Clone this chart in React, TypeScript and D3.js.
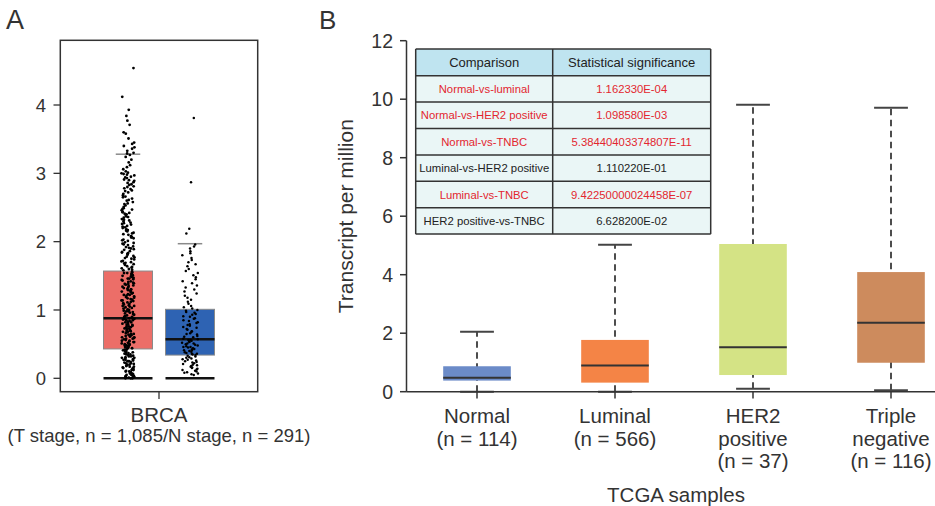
import React from "react";
import * as d3 from "d3";

const W = 935;
const H = 506;
const FONT = "'Liberation Sans', Arial, Helvetica, sans-serif";
const INK = "#333333";

// ---------------- Panel A data ----------------
const groupA = ["BRCA"];
const subgroupsA = ["T stage", "N stage"];
const colorsA = ["#ec6e68", "#2e63b3"];
const q1A = [0.43, 0.34];
const medianA = [0.88, 0.57];
const q3A = [1.57, 1.01];
const lowerA = [0, 0];
const upperA = [3.28, 1.97];
const ticksA = [0, 1, 2, 3, 4];

// individual expression values (hundredths of TPM, read approximately from the jitter)
const redPointsA = [
  454, 412, 393, 384, 377, 371, 360, 358, 351, 345, 343, 340, 338, 336, 333, 330, 329, 327,
  324, 320, 316, 312, 309, 306, 303, 301, 300,
  299, 298, 297, 295, 294, 293, 291, 290, 289, 287, 286, 284, 283, 281, 280, 278, 277, 275, 274,
  272, 270, 268, 266, 265, 263, 261, 260, 258, 256, 255, 253, 251,
  249, 248, 247, 246, 244, 243, 242, 241, 240, 238, 237, 236, 235, 233, 232, 231, 230, 228, 227,
  226, 225, 223, 222, 221, 220, 218, 217, 216, 215, 213, 212, 211, 210, 208, 207, 206, 205, 203,
  202, 201, 199, 198, 197, 196, 195, 193, 192, 191, 190, 189, 188, 186, 185, 184, 183, 182, 181,
  179, 178, 177, 176, 175, 174, 172, 171, 170, 169, 168, 167, 166, 164, 163, 162, 161, 160, 159,
  158, 156, 155, 154, 154, 153, 152, 151, 150, 149, 148, 147, 146, 146, 145, 144, 143, 142, 141,
  140, 139, 138, 138, 137, 136, 135, 134, 133, 132, 131, 130, 130, 129, 128, 127, 126, 125, 124,
  123, 122, 122, 121, 120, 119, 118, 117, 116, 115, 114, 114, 113, 112, 111, 110, 109, 108, 107,
  106, 106, 105, 104, 103, 102, 101, 100, 99, 98, 98, 97, 96, 95, 94, 93, 92, 91, 90, 90, 89, 88,
  87, 87, 86, 85, 85, 84, 83, 82, 82, 81, 80, 80, 79, 78, 78, 77, 76, 75, 75, 74, 73, 73, 72, 71,
  70, 70, 69, 68, 68, 67, 66, 65, 65, 64, 63, 63, 62, 61, 60, 60, 59, 58, 58, 57, 56, 55, 55, 54,
  53, 53, 52, 51, 50, 50, 49, 48, 48, 47, 46, 45, 45, 44, 44, 43,
  42, 42, 41, 40, 40, 39, 38, 37, 37, 36, 35, 35, 34, 33, 32, 32, 31, 30, 30, 29, 28, 27, 27, 26,
  25, 25, 24, 23, 22, 22, 21, 20, 20, 19, 18, 17, 17, 16, 15, 15, 14, 13, 12, 12, 11, 10, 10, 9,
  8, 7, 7, 6, 5, 5, 4, 3, 3, 2, 2, 1, 1, 1, 0, 0, 0,
];
const bluePointsA = [
  381, 287, 219, 212,
  196, 193, 190, 186, 183, 180, 176, 173, 170, 167, 164, 160, 157, 154, 151, 148, 145, 142, 139,
  136, 133, 130, 127, 124, 121, 118, 115, 112, 109, 106, 104, 102,
  100, 99, 97, 96, 94, 93, 91, 90, 88, 87, 85, 84, 82, 81, 79, 78, 77, 75, 74, 72, 71, 69, 68, 66,
  65, 64, 62, 61, 60, 58, 57,
  56, 56, 55, 54, 53, 52, 51, 51, 50, 49, 48, 47, 46, 46, 45, 44, 43, 42, 41, 41, 40, 39, 38, 37,
  36, 36, 35, 34,
  33, 32, 31, 30, 29, 28, 27, 26, 25, 24, 23, 22, 21, 20, 19, 18, 17, 16, 15, 14, 13, 12, 11, 10,
  9, 8, 7, 6, 5,
];
const pointsA = [redPointsA, bluePointsA];

// ---------------- Panel B data ----------------
const categoriesB = ["Normal", "Luminal", "HER2 positive", "Triple negative"];
const labelLinesB = [
  ["Normal", "(n = 114)"],
  ["Luminal", "(n = 566)"],
  ["HER2", "positive", "(n = 37)"],
  ["Triple", "negative", "(n = 116)"],
];
const colorsB = ["#6b8bc8", "#f48446", "#d4e385", "#cd8b5d"];
const lowerB = [0, 0, 0.1, 0.05];
const q1B = [0.38, 0.31, 0.57, 0.99];
const medianB = [0.48, 0.9, 1.52, 2.36];
const q3B = [0.87, 1.77, 5.05, 4.09];
const upperB = [2.05, 5.02, 9.81, 9.71];
const ticksB = [0, 2, 4, 6, 8, 10, 12];

const comparisons = [
  "Normal-vs-luminal",
  "Normal-vs-HER2 positive",
  "Normal-vs-TNBC",
  "Luminal-vs-HER2 positive",
  "Luminal-vs-TNBC",
  "HER2 positive-vs-TNBC",
];
const pValues = [
  "1.162330E-04",
  "1.098580E-03",
  "5.38440403374807E-11",
  "1.110220E-01",
  "9.42250000024458E-07",
  "6.628200E-02",
];
const significant = [true, true, true, false, true, false];

// deterministic jitter offset in [-1, 1] (layout only, not data)
function jitter(k: number, seed: number): number {
  const s = Math.sin((k + 1) * 12.9898 + seed * 78.233) * 43758.5453;
  return (s - Math.floor(s)) * 2 - 1;
}

export default function App() {
  // ----- Panel A scales -----
  const frameA = { x0: 60.3, x1: 257.7, y0: 40.3, y1: 391.7 };
  const yA = d3.scaleLinear().domain([-0.196, 4.947]).range([frameA.y1, frameA.y0]);
  const xA = d3.scaleBand().domain(groupA).range([frameA.x0, frameA.x1]);
  const cA = (xA("BRCA") as number) + xA.bandwidth() / 2;
  const xSubA = d3.scaleBand().domain(subgroupsA).range([cA - 62, cA + 62]);
  const boxWA = xSubA.bandwidth() * 0.79;
  const jitterA = [6.5, 8];
  const radiusA = [1.4, 1.25];

  // ----- Panel B scales -----
  const yB = d3.scaleLinear().domain([0, 12]).range([391.7, 40.7]);
  const xB = d3.scaleBand().domain(categoriesB).range([408, 960]);
  const boxWB = xB.bandwidth() * 0.49;
  const axisXB = 406.5;

  // ----- table layout -----
  const tx = [415.7, 552.7, 710.7];
  const headerTop = 49;
  const headerBot = 75.7;
  const rowH = 26.4;
  const tableBot = headerBot + rowH * comparisons.length;

  return (
    <svg
      width={W}
      height={H}
      viewBox={`0 0 ${W} ${H}`}
      style={{ position: "absolute", left: 0, top: 0, display: "block", background: "#fff" }}
      fontFamily={FONT}
    >
      {/* ================= Panel A ================= */}
      <text x={6} y={29} fontSize={27} fill={INK}>A</text>
      <rect
        x={frameA.x0}
        y={frameA.y0}
        width={frameA.x1 - frameA.x0}
        height={frameA.y1 - frameA.y0}
        fill="#fff"
        stroke={INK}
        strokeWidth={1.5}
      />
      {ticksA.map((t) => (
        <g key={`ta${t}`}>
          <line x1={53.5} x2={frameA.x0} y1={yA(t)} y2={yA(t)} stroke={INK} strokeWidth={1.3} />
          <text x={46} y={yA(t)} dy="0.36em" textAnchor="end" fontSize={18.5} fill={INK}>
            {t}
          </text>
        </g>
      ))}
      <line x1={cA} x2={cA} y1={frameA.y1} y2={399} stroke={INK} strokeWidth={1.3} />
      <text x={cA} y={421.5} textAnchor="middle" fontSize={20.5} fill={INK}>BRCA</text>
      <text x={cA} y={442} textAnchor="middle" fontSize={18.5} fill={INK}>
        (T stage, n = 1,085/N stage, n = 291)
      </text>

      {subgroupsA.map((g, i) => {
        const cx = (xSubA(g) as number) + xSubA.bandwidth() / 2;
        const x0 = cx - boxWA / 2;
        return (
          <g key={`boxA${g}`}>
            <rect
              x={x0}
              y={yA(q3A[i])}
              width={boxWA}
              height={yA(q1A[i]) - yA(q3A[i])}
              fill={colorsA[i]}
              stroke="#8a8a8a"
              strokeWidth={1}
            />
            <line x1={x0} x2={x0 + boxWA} y1={yA(medianA[i])} y2={yA(medianA[i])} stroke="#111" strokeWidth={2.5} />
            <line x1={x0} x2={x0 + boxWA} y1={yA(lowerA[i])} y2={yA(lowerA[i])} stroke="#111" strokeWidth={2.5} />
            <line
              x1={cx - boxWA / 4}
              x2={cx + boxWA / 4}
              y1={yA(upperA[i])}
              y2={yA(upperA[i])}
              stroke="#8a8a8a"
              strokeWidth={1.5}
            />
            {pointsA[i].map((v, k) => {
              const off = jitter(k, i) * jitterA[i];
              return <circle key={k} cx={cx + off} cy={yA(v / 100)} r={radiusA[i]} fill="#000" />;
            })}
          </g>
        );
      })}

      {/* ================= Panel B ================= */}
      <text x={319} y={28.5} fontSize={26} fill={INK}>B</text>
      <text
        transform={`translate(345, ${(yB(0) + yB(12)) / 2}) rotate(-90)`}
        textAnchor="middle"
        dy="0.36em"
        fontSize={21}
        fill={INK}
      >
        Transcript per million
      </text>

      {/* boxes */}
      {categoriesB.map((c, i) => {
        const cx = (xB(c) as number) + xB.bandwidth() / 2;
        const x0 = cx - boxWB / 2;
        return (
          <g key={`boxB${c}`}>
            <line
              x1={cx}
              x2={cx}
              y1={yB(lowerB[i])}
              y2={yB(upperB[i])}
              stroke="#3a3a3a"
              strokeWidth={1.8}
              strokeDasharray="6.5 4.5"
            />
            <line
              x1={cx - boxWB / 4}
              x2={cx + boxWB / 4}
              y1={yB(upperB[i])}
              y2={yB(upperB[i])}
              stroke="#444"
              strokeWidth={2}
            />
            <line
              x1={cx - boxWB / 4}
              x2={cx + boxWB / 4}
              y1={yB(lowerB[i])}
              y2={yB(lowerB[i])}
              stroke="#444"
              strokeWidth={2}
            />
            <rect x={x0} y={yB(q3B[i])} width={boxWB} height={yB(q1B[i]) - yB(q3B[i])} fill={colorsB[i]} />
            <line x1={x0} x2={x0 + boxWB} y1={yB(medianB[i])} y2={yB(medianB[i])} stroke="#333" strokeWidth={2} />
          </g>
        );
      })}

      {/* axes */}
      <line x1={axisXB} x2={axisXB} y1={yB(12)} y2={yB(0)} stroke={INK} strokeWidth={1.5} />
      {ticksB.map((t) => (
        <g key={`tb${t}`}>
          <line x1={400} x2={axisXB} y1={yB(t)} y2={yB(t)} stroke={INK} strokeWidth={1.5} />
          <text x={393} y={yB(t)} dy="0.36em" textAnchor="end" fontSize={19.5} fill={INK}>
            {t}
          </text>
        </g>
      ))}
      <line x1={axisXB} x2={935} y1={yB(0)} y2={yB(0)} stroke={INK} strokeWidth={1.5} />
      {categoriesB.map((c, i) => {
        const cx = (xB(c) as number) + xB.bandwidth() / 2;
        return (
          <g key={`lb${c}`}>
            <line x1={cx} x2={cx} y1={yB(0)} y2={398.5} stroke={INK} strokeWidth={1.5} />
            {labelLinesB[i].map((ln, j) => (
              <text key={j} x={cx} y={423 + j * 22.5} textAnchor="middle" fontSize={20.5} fill={INK}>
                {ln}
              </text>
            ))}
          </g>
        );
      })}
      <text x={676} y={502} textAnchor="middle" fontSize={20.5} fill={INK}>TCGA samples</text>

      {/* table */}
      <rect x={tx[0]} y={headerTop} width={tx[2] - tx[0]} height={headerBot - headerTop} fill="#bfe4f0" />
      <rect x={tx[0]} y={headerBot} width={tx[2] - tx[0]} height={tableBot - headerBot} fill="#eaf6f6" />
      <text x={(tx[0] + tx[1]) / 2} y={(headerTop + headerBot) / 2} dy="0.36em" textAnchor="middle" fontSize={13} fill="#222">
        Comparison
      </text>
      <text x={(tx[1] + tx[2]) / 2} y={(headerTop + headerBot) / 2} dy="0.36em" textAnchor="middle" fontSize={13} fill="#222">
        Statistical significance
      </text>
      {comparisons.map((c, i) => {
        const yc = headerBot + rowH * (i + 0.5);
        const col = significant[i] ? "#e3262f" : "#222";
        return (
          <g key={`row${i}`}>
            <text x={(tx[0] + tx[1]) / 2} y={yc} dy="0.36em" textAnchor="middle" fontSize={11.3} fill={col}>
              {c}
            </text>
            <text x={(tx[1] + tx[2]) / 2} y={yc} dy="0.36em" textAnchor="middle" fontSize={11.3} fill={col}>
              {pValues[i]}
            </text>
          </g>
        );
      })}
      {/* grid lines */}
      {d3.range(comparisons.length + 2).map((k) => {
        const y = k === 0 ? headerTop : headerBot + rowH * (k - 1);
        return <line key={`h${k}`} x1={tx[0]} x2={tx[2]} y1={y} y2={y} stroke="#333" strokeWidth={1.5} />;
      })}
      {tx.map((x, k) => (
        <line key={`v${k}`} x1={x} x2={x} y1={headerTop} y2={tableBot} stroke="#333" strokeWidth={1.5} />
      ))}
    </svg>
  );
}
